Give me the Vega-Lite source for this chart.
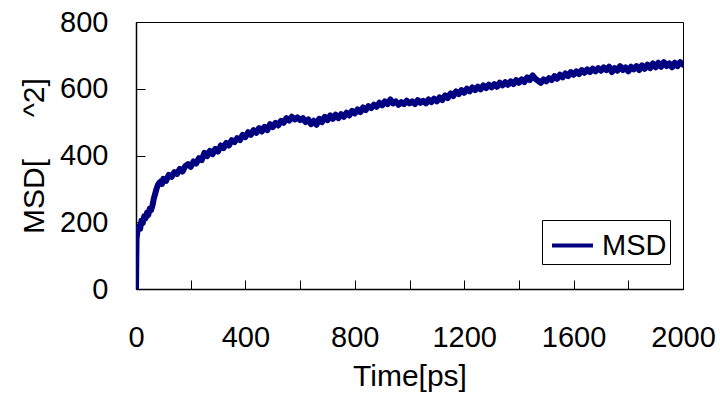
{
  "$schema": "https://vega.github.io/schema/vega-lite/v6.json",
  "width": 547,
  "height": 267,
  "autosize": {"type": "none"},
  "padding": {"left": 136, "top": 22, "right": 37, "bottom": 116},
  "background": "white",
  "config": {
    "font": "Liberation Sans",
    "view": {"stroke": "#000000", "strokeWidth": 1},
    "axis": {"grid": false, "domainColor": "#000000", "domainWidth": 1.5, "tickColor": "#000000", "tickWidth": 1, "labelColor": "#000000", "titleColor": "#000000", "labelFont": "Liberation Sans", "titleFont": "Liberation Sans", "titleFontWeight": "normal"}
  },
  "data": {"values": [
    {"t":0,"msd":0},{"t":2,"msd":150},{"t":5,"msd":172},{"t":10,"msd":188},{"t":15,"msd":180},{"t":20,"msd":205},{"t":25,"msd":198},{"t":30,"msd":218},{"t":35,"msd":212},{"t":40,"msd":228},{"t":45,"msd":222},{"t":50,"msd":240},{"t":55,"msd":236},{"t":60,"msd":250},{"t":65,"msd":270},{"t":70,"msd":285},{"t":75,"msd":300},{"t":80,"msd":312},{"t":85,"msd":318},{"t":90,"msd":322},{"t":95,"msd":315},{"t":100,"msd":330},
    {"t":110,"msd":324},{"t":120,"msd":342},{"t":130,"msd":336},{"t":140,"msd":350},{"t":150,"msd":345},{"t":160,"msd":360},{"t":170,"msd":352},{"t":180,"msd":368},{"t":190,"msd":374},{"t":200,"msd":366},
    {"t":210,"msd":382},{"t":220,"msd":376},{"t":230,"msd":392},{"t":240,"msd":386},{"t":250,"msd":408},{"t":260,"msd":398},{"t":270,"msd":414},{"t":280,"msd":404},{"t":290,"msd":420},{"t":300,"msd":412},
    {"t":310,"msd":430},{"t":320,"msd":422},{"t":330,"msd":438},{"t":340,"msd":430},{"t":350,"msd":446},{"t":360,"msd":440},{"t":370,"msd":452},{"t":380,"msd":446},{"t":390,"msd":462},{"t":400,"msd":455},
    {"t":410,"msd":470},{"t":420,"msd":462},{"t":430,"msd":476},{"t":440,"msd":468},{"t":450,"msd":482},{"t":460,"msd":472},{"t":470,"msd":486},{"t":480,"msd":476},{"t":490,"msd":494},{"t":500,"msd":485},
    {"t":510,"msd":498},{"t":520,"msd":490},{"t":530,"msd":504},{"t":540,"msd":498},{"t":550,"msd":512},{"t":560,"msd":505},{"t":570,"msd":516},{"t":580,"msd":508},{"t":590,"msd":514},{"t":600,"msd":506},
    {"t":610,"msd":512},{"t":620,"msd":500},{"t":630,"msd":508},{"t":640,"msd":494},{"t":650,"msd":504},{"t":660,"msd":492},{"t":670,"msd":510},{"t":680,"msd":500},{"t":690,"msd":516},{"t":700,"msd":506},
    {"t":710,"msd":520},{"t":720,"msd":510},{"t":730,"msd":522},{"t":740,"msd":512},{"t":750,"msd":524},{"t":760,"msd":516},{"t":770,"msd":528},{"t":780,"msd":520},{"t":790,"msd":534},{"t":800,"msd":526},
    {"t":810,"msd":538},{"t":820,"msd":530},{"t":830,"msd":544},{"t":840,"msd":536},{"t":850,"msd":548},{"t":860,"msd":542},{"t":870,"msd":552},{"t":880,"msd":546},{"t":890,"msd":558},{"t":900,"msd":550},
    {"t":910,"msd":562},{"t":920,"msd":554},{"t":930,"msd":568},{"t":940,"msd":556},{"t":950,"msd":562},{"t":960,"msd":552},{"t":970,"msd":560},{"t":980,"msd":554},{"t":990,"msd":564},{"t":1000,"msd":556},
    {"t":1010,"msd":562},{"t":1020,"msd":554},{"t":1030,"msd":566},{"t":1040,"msd":558},{"t":1050,"msd":564},{"t":1060,"msd":556},{"t":1070,"msd":568},{"t":1080,"msd":560},{"t":1090,"msd":570},{"t":1100,"msd":562},
    {"t":1110,"msd":574},{"t":1120,"msd":566},{"t":1130,"msd":580},{"t":1140,"msd":572},{"t":1150,"msd":586},{"t":1160,"msd":578},{"t":1170,"msd":592},{"t":1180,"msd":584},{"t":1190,"msd":596},{"t":1200,"msd":588},
    {"t":1210,"msd":600},{"t":1220,"msd":592},{"t":1230,"msd":604},{"t":1240,"msd":596},{"t":1250,"msd":606},{"t":1260,"msd":598},{"t":1270,"msd":610},{"t":1280,"msd":602},{"t":1290,"msd":612},{"t":1300,"msd":604},
    {"t":1310,"msd":614},{"t":1320,"msd":606},{"t":1330,"msd":618},{"t":1340,"msd":610},{"t":1350,"msd":620},{"t":1360,"msd":612},{"t":1370,"msd":622},{"t":1380,"msd":614},{"t":1390,"msd":626},{"t":1400,"msd":618},
    {"t":1410,"msd":628},{"t":1420,"msd":620},{"t":1430,"msd":634},{"t":1440,"msd":626},{"t":1450,"msd":640},{"t":1460,"msd":630},{"t":1470,"msd":624},{"t":1480,"msd":618},{"t":1490,"msd":628},{"t":1500,"msd":622},
    {"t":1510,"msd":632},{"t":1520,"msd":626},{"t":1530,"msd":638},{"t":1540,"msd":630},{"t":1550,"msd":642},{"t":1560,"msd":634},{"t":1570,"msd":646},{"t":1580,"msd":638},{"t":1590,"msd":650},{"t":1600,"msd":642},
    {"t":1610,"msd":652},{"t":1620,"msd":644},{"t":1630,"msd":656},{"t":1640,"msd":648},{"t":1650,"msd":658},{"t":1660,"msd":650},{"t":1670,"msd":660},{"t":1680,"msd":652},{"t":1690,"msd":662},{"t":1700,"msd":654},
    {"t":1710,"msd":664},{"t":1720,"msd":656},{"t":1730,"msd":666},{"t":1740,"msd":650},{"t":1750,"msd":662},{"t":1760,"msd":654},{"t":1770,"msd":668},{"t":1780,"msd":656},{"t":1790,"msd":664},{"t":1800,"msd":652},
    {"t":1810,"msd":666},{"t":1820,"msd":658},{"t":1830,"msd":668},{"t":1840,"msd":656},{"t":1850,"msd":670},{"t":1860,"msd":660},{"t":1870,"msd":672},{"t":1880,"msd":662},{"t":1890,"msd":676},{"t":1900,"msd":664},
    {"t":1910,"msd":678},{"t":1920,"msd":666},{"t":1930,"msd":680},{"t":1940,"msd":668},{"t":1950,"msd":676},{"t":1960,"msd":664},{"t":1970,"msd":678},{"t":1980,"msd":668},{"t":1990,"msd":680},{"t":2000,"msd":672}
  ]},
  "mark": {"type": "line", "strokeWidth": 6, "strokeJoin": "round", "strokeCap": "round", "clip": true},
  "encoding": {
    "x": {
      "field": "t", "type": "quantitative",
      "scale": {"domain": [0, 2000], "nice": false, "zero": true},
      "axis": {
        "values": [0,200,400,600,800,1000,1200,1400,1600,1800,2000],
        "labelExpr": "datum.value % 400 == 0 ? datum.label : ''",
        "format": "d",
        "tickSize": -9, "labelPadding": 43, "labelFontSize": 29, "labelFlush": false, "labelOverlap": false,
        "title": "Time[ps]", "titleFontSize": 30, "titlePadding": 9
      }
    },
    "y": {
      "field": "msd", "type": "quantitative",
      "scale": {"domain": [0, 800], "nice": false},
      "axis": {
        "values": [0,200,400,600,800],
        "format": "d",
        "tickSize": -9, "labelPadding": 37, "labelFontSize": 29, "labelFlush": false, "labelOverlap": false,
        "title": "MSD[\u00a0\u00a0\u00a0\u00a0\u00a0^2]", "titleFontSize": 30, "titlePadding": 10
      }
    },
    "color": {
      "datum": "MSD", "type": "nominal",
      "scale": {"range": ["#000080"]},
      "legend": {
        "title": null, "orient": "none", "legendX": 406, "legendY": 198,
        "strokeColor": "#000000", "fillColor": "white", "padding": 3,
        "symbolType": "stroke", "symbolStrokeWidth": 4, "symbolSize": 1681, "symbolOffset": 5, "labelOffset": 7,
        "labelExpr": "datum.label + '\u00a0'",
        "labelFontSize": 29, "labelColor": "#000000", "labelFont": "Liberation Sans"
      }
    }
  }
}
